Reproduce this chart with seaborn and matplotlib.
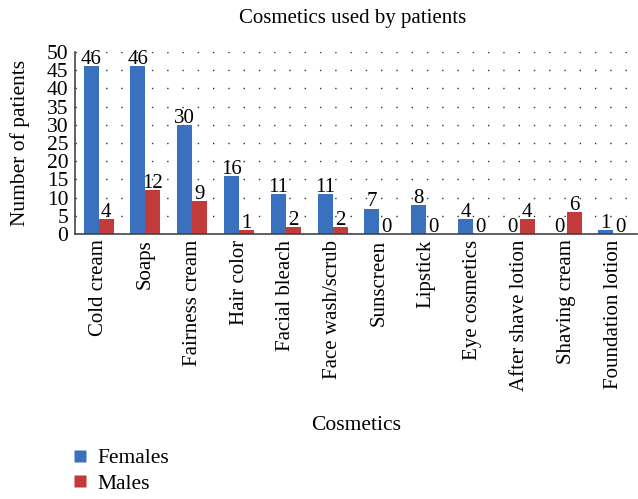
import matplotlib

matplotlib.use("Agg")
import matplotlib.pyplot as plt
import pandas as pd
import seaborn as sns

cosmetics = ["Cold cream", "Soaps", "Fairness cream", "Hair color", "Facial bleach",
             "Face wash/scrub", "Sunscreen", "Lipstick", "Eye cosmetics",
             "After shave lotion", "Shaving cream", "Foundation lotion"]
females = [46, 46, 30, 16, 11, 11, 7, 8, 4, 0, 0, 1]
males = [4, 12, 9, 1, 2, 2, 0, 0, 0, 4, 6, 0]
groups = ["Females", "Males"]
colors = ["#3a71bf", "#c23b3a"]

df = pd.DataFrame({
    "Cosmetics": cosmetics * 2,
    "count": females + males,
    "group": [groups[0]] * len(cosmetics) + [groups[1]] * len(cosmetics),
})

sns.set_theme(style="white")
plt.rcParams["font.family"] = ["Liberation Serif", "DejaVu Serif"]
plt.rcParams["text.color"] = "black"
plt.rcParams["axes.labelcolor"] = "black"
plt.rcParams["xtick.color"] = "black"
plt.rcParams["ytick.color"] = "black"

fig = plt.figure(figsize=(6.38, 4.99), dpi=100)
ax = fig.add_axes([0.118, 0.531, 0.88, 0.365])
sns.barplot(data=df, x="Cosmetics", y="count", hue="group", palette=colors,
            width=0.64, saturation=1, ax=ax, legend=False, edgecolor="none")

for cont in ax.containers:
    ax.bar_label(cont, fmt="%d", fontsize=15, padding=-2)

ax.set_ylim(0, 50)
ax.set_xlim(-0.5, len(cosmetics) - 0.5)
ax.set_yticks(range(0, 51, 5))
ax.tick_params(axis="y", labelsize=15.5, length=0, pad=5)
ax.tick_params(axis="x", labelsize=15, length=0, pad=4)
ax.set_xticks(range(len(cosmetics)))
ax.set_xticklabels(cosmetics, rotation=90)
ax.yaxis.grid(True, color="#333333", linestyle=(0, (1, 10)), linewidth=1.0)
ax.set_axisbelow(True)
for s in ["top", "right"]:
    ax.spines[s].set_visible(False)
for s in ["left", "bottom"]:
    ax.spines[s].set_color("#444444")
    ax.spines[s].set_linewidth(1.2)

ax.set_ylabel("Number of patients", fontsize=15.5, labelpad=12)
ax.set_xlabel("Cosmetics", fontsize=15.5)
ax.xaxis.set_label_coords(0.5, -1.0)
fig.text(0.553, 0.962, "Cosmetics used by patients", ha="center", va="center", fontsize=15)

handles = [plt.Line2D([], [], marker="s", linestyle="none", markersize=8,
                      markerfacecolor=c, markeredgecolor="none") for c in colors]
fig.legend(handles, groups, loc="lower left", bbox_to_anchor=(0.075, -0.028),
           frameon=False, fontsize=15.5, handletextpad=0.2, labelspacing=0.25,
           handlelength=1.2)

fig.savefig("out.png", dpi=100)
